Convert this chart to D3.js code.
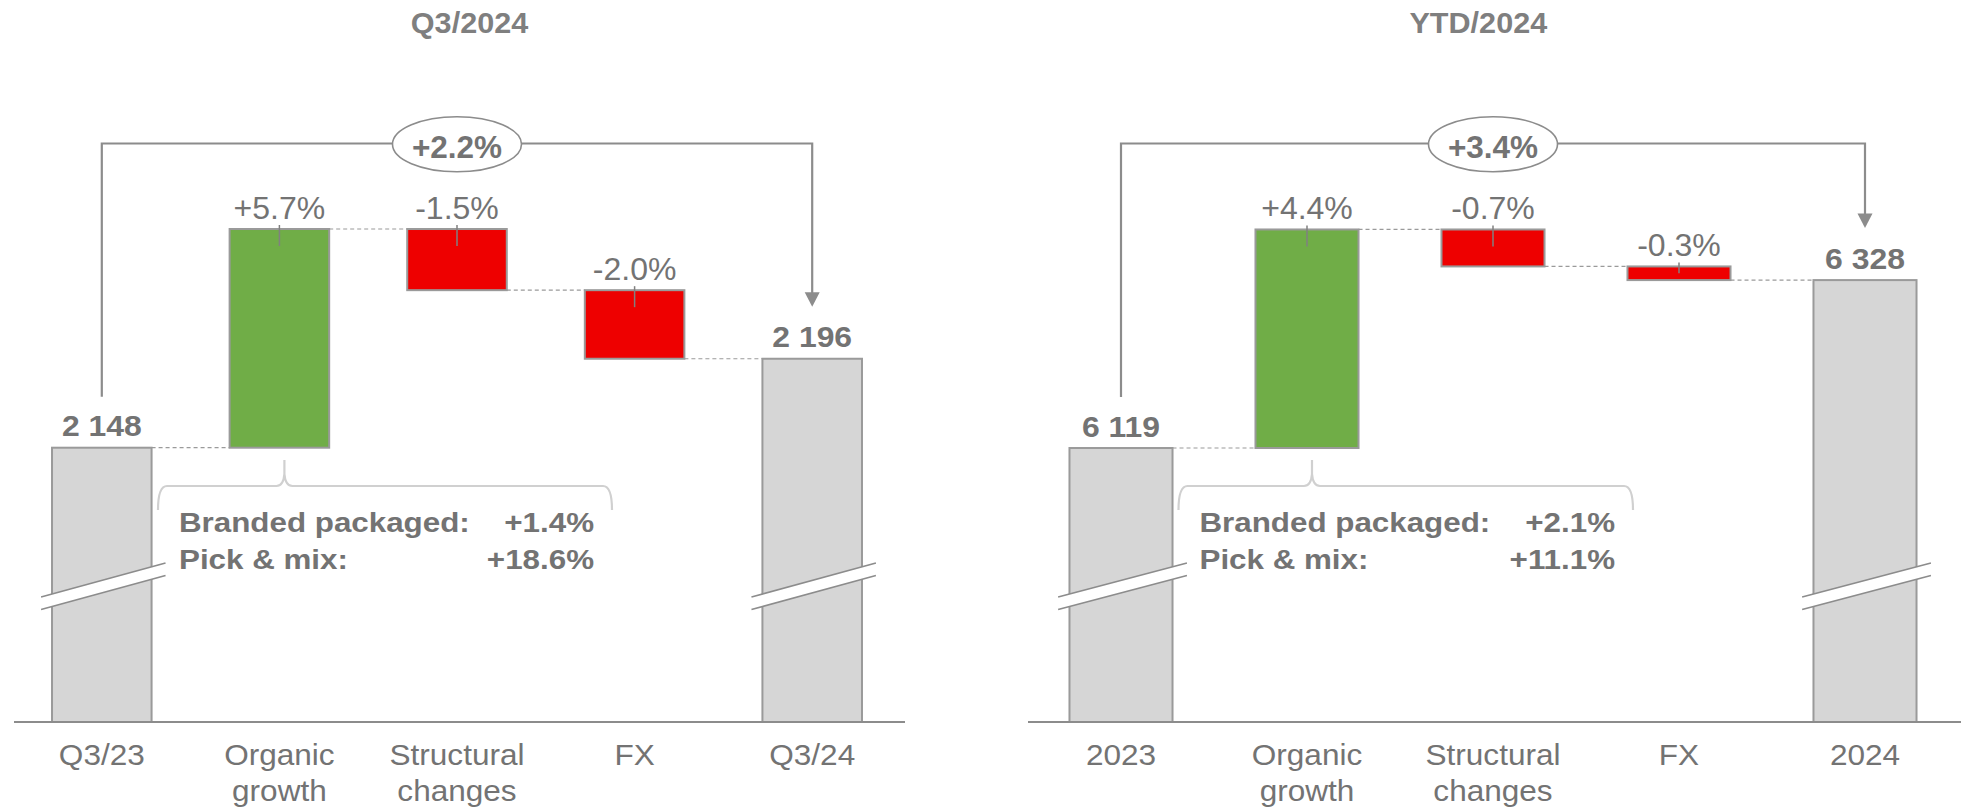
<!DOCTYPE html>
<html><head><meta charset="utf-8">
<script src="https://cdn.jsdelivr.net/npm/d3@7"></script>
<style>
body{margin:0;background:#fff}
svg{display:block}
text{font-family:"Liberation Sans",Arial,Helvetica,sans-serif}
</style>
</head><body>
<svg id="chart" width="1961" height="810"></svg>
<script>
// ---------- DATA ----------
const q3Title = "Q3/2024";
const q3Categories = [["Q3/23"], ["Organic", "growth"], ["Structural", "changes"], ["FX"], ["Q3/24"]];
const q3Start = 2148;
const q3End = 2196;
const q3Deltas = [118, -33, -37];
const q3DeltaLabels = ["+5.7%", "-1.5%", "-2.0%"];
const q3Total = "+2.2%";
const q3BreakdownNames = ["Branded packaged:", "Pick & mix:"];
const q3BreakdownValues = ["+1.4%", "+18.6%"];
const q3YDomain = [2000, 2300];

const ytdTitle = "YTD/2024";
const ytdCategories = [["2023"], ["Organic", "growth"], ["Structural", "changes"], ["FX"], ["2024"]];
const ytdStart = 6119;
const ytdEnd = 6328;
const ytdDeltas = [272, -46, -17];
const ytdDeltaLabels = ["+4.4%", "-0.7%", "-0.3%"];
const ytdTotal = "+3.4%";
const ytdBreakdownNames = ["Branded packaged:", "Pick & mix:"];
const ytdBreakdownValues = ["+2.1%", "+11.1%"];
const ytdYDomain = [5778, 6470];

// ---------- STYLE / LAYOUT ----------
const TEXT = "#737373";
const LINE = "#8c8c8c";
const BAR_GRAY = "#d6d6d6";
const BAR_STROKE = "#9a9a9a";
const GREEN = "#70ad47";
const RED = "#ee0000";
const BRACE = "#d0d0d0";
const Y_RANGE = [722, 166];
const fmt = d3.formatLocale({decimal: ".", thousands: " ", grouping: [3], currency: ["", ""]}).format(",");

const svg = d3.select("#chart");
svg.append("rect").attr("width", 1961).attr("height", 810).attr("fill", "#fff");

function addText(g, x, y, str, o) {
  return g.append("text")
    .attr("transform", `translate(${x},${y}) scale(${o.sx || 1},1)`)
    .attr("text-anchor", o.anchor || "middle")
    .attr("font-size", o.size)
    .attr("font-weight", o.bold ? "bold" : "normal")
    .attr("fill", o.color || TEXT)
    .text(str);
}

function drawPanel(cfg) {
  const g = svg.append("g");
  const keys = cfg.categories.map((c, i) => i);
  const x = d3.scaleBand().domain(keys).range(cfg.bandRange)
    .paddingInner(cfg.pad).paddingOuter(cfg.pad / 2);
  const y = d3.scaleLinear().domain(cfg.yDomain).range(Y_RANGE);
  const bw = x.bandwidth();
  const base = cfg.yDomain[0];

  const steps = [];
  steps.push({i: 0, lo: base, hi: cfg.start, type: "total"});
  let cum = cfg.start;
  cfg.deltas.forEach((d, k) => {
    const from = cum, to = cum + d;
    steps.push({i: k + 1, lo: Math.min(from, to), hi: Math.max(from, to), from, to, type: d >= 0 ? "up" : "down", label: cfg.deltaLabels[k]});
    cum = to;
  });
  steps.push({i: cfg.deltas.length + 1, lo: base, hi: cfg.end, type: "total"});

  // connectors
  for (let k = 0; k < steps.length - 1; k++) {
    const a = steps[k], b = steps[k + 1];
    const level = a.type === "total" ? a.hi : a.to;
    g.append("line")
      .attr("x1", x(a.i) + bw).attr("x2", x(b.i))
      .attr("y1", y(level)).attr("y2", y(level))
      .attr("stroke", "#9a9a9a").attr("stroke-width", 1.2).attr("stroke-dasharray", "4,3");
  }

  // bars
  g.selectAll("rect.bar").data(steps).join("rect")
    .attr("class", "bar")
    .attr("x", d => x(d.i)).attr("width", bw)
    .attr("y", d => y(d.hi)).attr("height", d => y(d.lo) - y(d.hi))
    .attr("fill", d => d.type === "total" ? BAR_GRAY : d.type === "up" ? GREEN : RED)
    .attr("stroke", BAR_STROKE).attr("stroke-width", 2);

  // axis break marks on total bars
  steps.filter(d => d.type === "total").forEach(d => {
    const cx = x(d.i) + bw / 2;
    const xl = cx - 0.61 * bw, xr = cx + 0.64 * bw;
    const yl = 597, yr = 563, gap = 12.5;
    g.append("polygon")
      .attr("points", [[xl, yl], [xr, yr], [xr, yr + gap], [xl, yl + gap]].map(p => p.join(",")).join(" "))
      .attr("fill", "#fff");
    [0, gap].forEach(o => g.append("line")
      .attr("x1", xl).attr("y1", yl + o).attr("x2", xr).attr("y2", yr + o)
      .attr("stroke", LINE).attr("stroke-width", 1.6));
  });

  // axis baseline
  g.append("line")
    .attr("x1", cfg.axisX[0]).attr("x2", cfg.axisX[1])
    .attr("y1", y(base)).attr("y2", y(base))
    .attr("stroke", LINE).attr("stroke-width", 2);

  // total value labels
  steps.filter(d => d.type === "total").forEach(d => {
    addText(g, x(d.i) + bw / 2, y(d.hi) - 11.5, fmt(d.hi), {size: 29, bold: true, sx: 1.1});
  });

  // delta labels + ticks
  steps.filter(d => d.type !== "total").forEach(d => {
    const cx = x(d.i) + bw / 2;
    const top = y(d.hi), h = y(d.lo) - y(d.hi);
    addText(g, cx, top - 10.5, d.label, {size: 32});
    g.append("line")
      .attr("x1", cx).attr("x2", cx)
      .attr("y1", top - 4).attr("y2", top + Math.min(17, h / 2))
      .attr("stroke", "#808080").attr("stroke-width", 1.5);
  });

  // overall change bracket
  const sx = x(0) + bw / 2;
  const ex = x(steps.length - 1) + bw / 2;
  const topY = 143.5;
  const yStartTop = y(cfg.start) - 51;
  const tipY = y(cfg.end) - 52;
  g.append("path")
    .attr("d", `M${sx},${yStartTop} L${sx},${topY} L${ex},${topY} L${ex},${tipY - 12}`)
    .attr("fill", "none").attr("stroke", LINE).attr("stroke-width", 2.2);
  g.append("path")
    .attr("d", `M${ex - 7.5},${tipY - 14.6} L${ex + 7.5},${tipY - 14.6} L${ex},${tipY} Z`)
    .attr("fill", LINE);
  const ecx = (cfg.bandRange[0] + cfg.bandRange[1]) / 2;
  g.append("ellipse")
    .attr("cx", ecx).attr("cy", 144.2).attr("rx", 64.5).attr("ry", 27.5)
    .attr("fill", "#fff").attr("stroke", LINE).attr("stroke-width", 1.6);
  addText(g, ecx, 157.5, cfg.total, {size: 31.5, bold: true});

  // curly brace under organic growth
  const bx0 = cfg.braceX[0], bx1 = cfg.braceX[1];
  const bc = x(1) + bw / 2 + 5;
  const by = 486;
  g.append("path")
    .attr("d", `M${bx0},510 Q${bx0},${by} ${bx0 + 9},${by} L${bc - 8},${by} Q${bc - 1},${by} ${bc},${by - 12} L${bc},${by - 26}` +
               ` M${bc},${by - 12} Q${bc + 1},${by} ${bc + 8},${by} L${bx1 - 9},${by} Q${bx1},${by} ${bx1},510`)
    .attr("fill", "none").attr("stroke", BRACE).attr("stroke-width", 2.2);
  cfg.breakdownNames.forEach((n, k) => {
    const by2 = 531.5 + k * 37.3;
    addText(g, bx0 + 21, by2, n, {size: 28.5, bold: true, sx: 1.1, anchor: "start"});
    addText(g, bx1 - 18, by2, cfg.breakdownValues[k], {size: 28.5, bold: true, sx: 1.1, anchor: "end"});
  });

  // category labels
  cfg.categories.forEach((lines, i) => {
    lines.forEach((ln, j) => {
      addText(g, x(i) + bw / 2, 765 + j * 35.5, ln, {size: 29.5, sx: 1.07});
    });
  });

  // title
  addText(g, cfg.titleX, 32.5, cfg.title, {size: 30, bold: true, sx: 1.02, color: "#7f7f7f"});
}

drawPanel({
  title: q3Title, categories: q3Categories, start: q3Start, end: q3End,
  deltas: q3Deltas, deltaLabels: q3DeltaLabels, total: q3Total,
  breakdownNames: q3BreakdownNames, breakdownValues: q3BreakdownValues,
  yDomain: q3YDomain,
  bandRange: [13, 901], pad: 0.4394, axisX: [14, 905], titleX: 469.5, braceX: [158, 612]
});
drawPanel({
  title: ytdTitle, categories: ytdCategories, start: ytdStart, end: ytdEnd,
  deltas: ytdDeltas, deltaLabels: ytdDeltaLabels, total: ytdTotal,
  breakdownNames: ytdBreakdownNames, breakdownValues: ytdBreakdownValues,
  yDomain: ytdYDomain,
  bandRange: [1028, 1958], pad: 0.446, axisX: [1028, 1961], titleX: 1478.3, braceX: [1178.5, 1633]
});
</script>
</body></html>
